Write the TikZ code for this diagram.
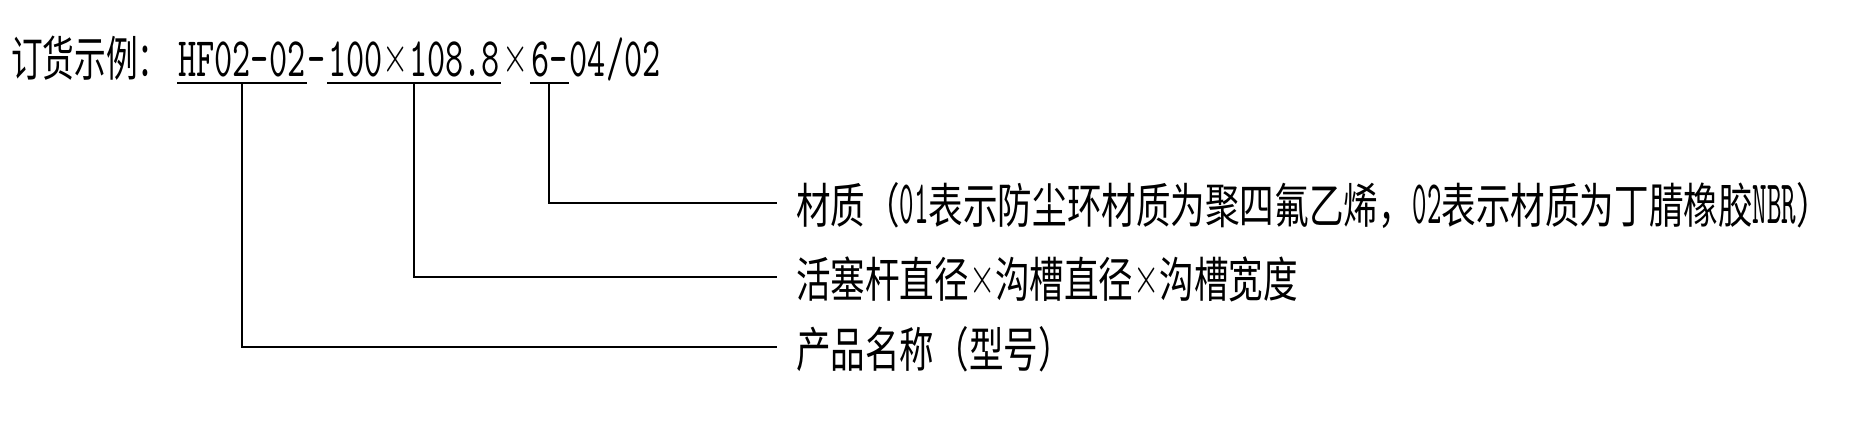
\documentclass[tikz,border=0pt]{standalone}
\usepackage{fontspec}
\usetikzlibrary{positioning}

\newfontfamily\cjkT[FakeStretch=0.66]{Noto Sans CJK SC}
\newfontfamily\cjkN[FakeStretch=0.72]{Noto Sans CJK SC}
\newfontfamily\monoT[FakeStretch=0.62]{lmmono10-regular.otf}
\newfontfamily\monoN[FakeStretch=0.445]{lmmono10-regular.otf}
\newfontfamily\romX[FakeStretch=0.65]{lmroman10-regular.otf}
\newcommand{\zht}[1]{{\cjkT\fontsize{24pt}{28pt}\selectfont #1}}
\newcommand{\zhn}[1]{{\cjkN\fontsize{24pt}{28pt}\selectfont #1}}
\newcommand{\ent}[1]{{\monoT\fontsize{27.9pt}{30pt}\selectfont #1}}
\newcommand{\enn}[1]{{\monoN\fontsize{31pt}{32pt}\selectfont #1}}
\newcommand{\bigx}{{\romX\fontsize{26pt}{28pt}\selectfont\raisebox{2pt}{×}}}

\begin{document}
\begin{tikzpicture}[x=0.5pt, y=-0.5pt, line width=1.2pt,
  seg/.style={inner xsep=0pt, inner ysep=3pt, text height=17pt, text depth=0pt, anchor=base west},
  note/.style={inner xsep=9pt, inner ysep=0pt, text height=20pt, text depth=0pt, anchor=west}]

\useasboundingbox (0,0) rectangle (1849,436);

% order code
\node[seg] (title) at (10,76) {\zht{订货示例：}};
\node[seg] (model) at (177,76) {\ent{HF02-02}};
\node[seg] (dash) at (model.base east) {\ent{-}};
\node[seg] (size) at (dash.base east) {\ent{100}\bigx\ent{108.8}};
\node[seg] (times) at (size.base east) {\bigx};
\node[seg] (mat) at (times.base east) {\ent{6-}};
\node[seg] (rest) at (mat.base east) {\ent{04/02}};

\draw (model.south west) -- (model.south east);
\draw (size.south west) -- (size.south east);
\draw (mat.south west) -- (mat.south east);

% notes
\node[note] (matnote) at (777,203) {\zhn{材质（}\enn{01}\zhn{表示防尘环材质为聚四氟乙烯，}\enn{02}\zhn{表示材质为丁腈橡胶}\enn{NBR}\zhn{）}};
\node[note] (sizenote) at (777,277) {\zhn{活塞杆直径}\bigx\zhn{沟槽直径}\bigx\zhn{沟槽宽度}};
\node[note] (modelnote) at (777,347) {\zhn{产品名称（型号）}};

\draw (mat.south) |- (matnote.west);
\draw (size.south) |- (sizenote.west);
\draw (model.south) |- (modelnote.west);

\end{tikzpicture}
\end{document}
